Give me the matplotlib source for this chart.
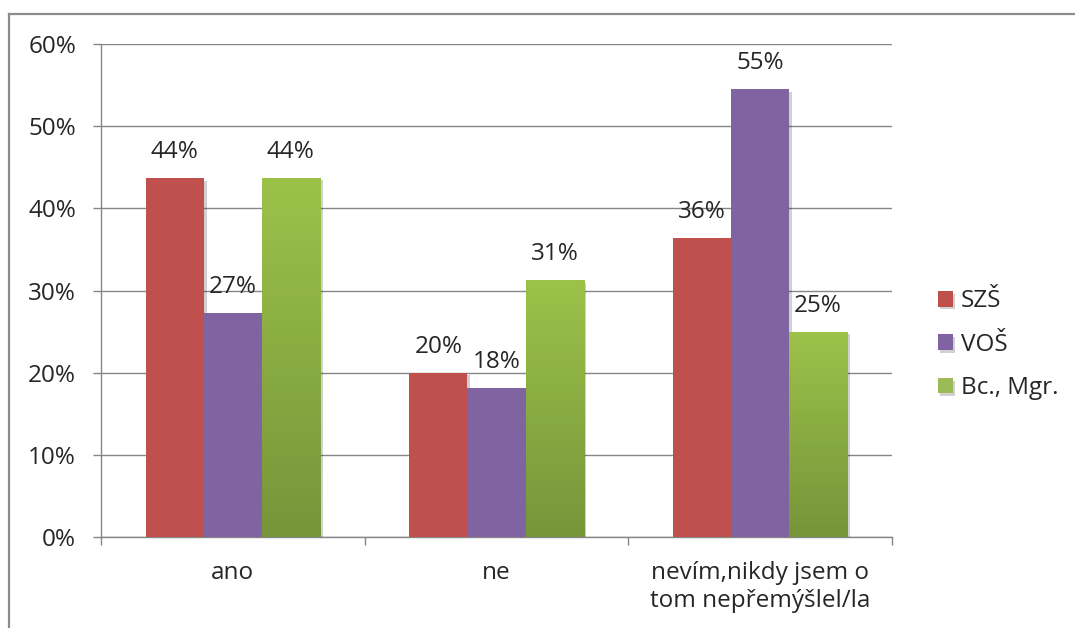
import numpy as np
import matplotlib
matplotlib.use("Agg")
import matplotlib.pyplot as plt
from matplotlib.colors import LinearSegmentedColormap
from matplotlib.lines import Line2D
from matplotlib import patheffects as pe

plt.rcParams['font.family'] = ['Open Sans', 'DejaVu Sans']

categories = ["ano", "ne", "nevím,nikdy jsem o\ntom nepřemýšlel/la"]
series = ["SZŠ", "VOŠ", "Bc., Mgr."]
szs = [43.64, 20.0, 36.36]
vos = [27.27, 18.18, 54.55]
bc_mgr = [43.75, 31.25, 25.0]
values = [szs, vos, bc_mgr]
yticks = [0, 10, 20, 30, 40, 50, 60]

colors = ["#c0504d", "#8064a2", "#9bbb59"]
text_col = "#262626"
axis_col = "#868686"
fs = 17.5

fig = plt.figure(figsize=(10.75, 6.28), dpi=100)
ax = fig.add_axes([101 / 1075, 1 - 537 / 628, (892 - 101) / 1075, (537 - 44) / 628])

x = np.arange(len(categories))
width = 0.22
shadow = [pe.SimplePatchShadow(offset=(2, -2), shadow_rgbFace="#000000", alpha=0.18), pe.Normal()]

green_grad = LinearSegmentedColormap.from_list("g", ["#76953a", "#9cc24a"])

for i, (name, vals, col) in enumerate(zip(series, values, colors)):
    pos = x + (i - 1) * width
    bars = ax.bar(pos, vals, width, color=col, label=name, zorder=3, linewidth=0)
    for b, v in zip(bars, vals):
        b.set_path_effects(shadow)
        if i == 2:
            grad = np.linspace(0, 1, 256).reshape(-1, 1)
            im = ax.imshow(grad, cmap=green_grad, origin="lower", aspect="auto",
                           extent=[b.get_x(), b.get_x() + b.get_width(), 0, v], zorder=4)
            im.set_clip_path(b)
        ax.text(b.get_x() + b.get_width() / 2, v + 1.7, f"{v:.0f}%",
                ha="center", va="bottom", fontsize=fs, color=text_col, zorder=5)

ax.set_xlim(-0.5, 2.5)
ax.set_ylim(0, 60)
ax.set_yticks(yticks)
ax.set_yticklabels([f"{t}%" for t in yticks])
ax.set_xticks(x)
ax.set_xticklabels(categories, linespacing=1.25)
ax.set_xticks([-0.5, 0.5, 1.5, 2.5], minor=True)
ax.tick_params(axis="x", which="major", length=0, pad=17, labelsize=fs, colors=text_col)
ax.tick_params(axis="x", which="minor", length=6, color=axis_col, width=1)
ax.tick_params(axis="y", length=6, color=axis_col, width=1, pad=12, labelsize=fs, labelcolor=text_col)

ax.grid(axis="y", color=axis_col, linewidth=1, zorder=0)
for s in ["top", "right"]:
    ax.spines[s].set_visible(False)
for s in ["left", "bottom"]:
    ax.spines[s].set_color(axis_col)
    ax.spines[s].set_linewidth(1)

leg = ax.legend(loc="center left", bbox_to_anchor=(1.03, 0.39), frameon=False,
                fontsize=fs, handlelength=0.62, handleheight=0.62, handletextpad=0.35,
                labelspacing=0.8, labelcolor=text_col)

# chart frame
fy = 1 - 14 / 628
fx = 9 / 1075
fig.add_artist(Line2D([fx, fx], [0, fy], transform=fig.transFigure, color="#8c8c8c", lw=1.6))
fig.add_artist(Line2D([fx, 1], [fy, fy], transform=fig.transFigure, color="#8c8c8c", lw=1.6))

fig.savefig("out.png", dpi=100)
